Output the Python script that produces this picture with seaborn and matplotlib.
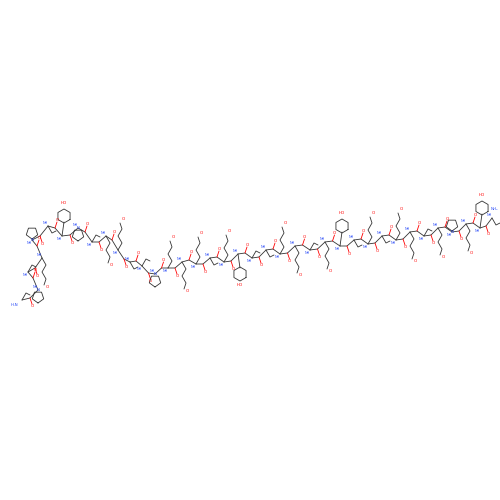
import numpy as np
import matplotlib
matplotlib.use("Agg")
import matplotlib.pyplot as plt
import seaborn as sns

# approximate alpha-carbon positions (image pixels, y downwards)
res_x = [22, 38, 28, 42, 32, 48, 62, 78, 92, 106, 118, 130, 142, 155, 168, 182, 196,
         210, 224, 238, 252, 266, 280, 295, 310, 325, 340, 354, 368, 382, 396, 410,
         424, 438, 452, 466, 480, 492]
res_y = [300, 290, 272, 258, 240, 226, 236, 228, 242, 236, 250, 262, 266, 274, 268,
         262, 264, 258, 262, 254, 258, 250, 254, 246, 250, 242, 246, 240, 244, 236,
         240, 232, 236, 228, 232, 224, 228, 218]
# residue side-chain kind: 0 short, 1 long chain, 2 ring6, 3 ring5 (proline)
res_kind = [0, 3, 0, 1, 3, 0, 2, 3, 0, 1, 1, 0, 0, 3, 1, 1, 1, 0, 1, 2, 0, 0, 1,
            1, 0, 1, 2, 0, 1, 0, 1, 1, 0, 1, 3, 1, 2, 0]

sns.set_style("white")
fig, ax = plt.subplots(figsize=(5, 5), dpi=100)
fig.subplots_adjust(0, 0, 1, 1)
ax.set_xlim(0, 500)
ax.set_ylim(500, 0)
ax.axis("off")

dark = "#333333"
for i in range(len(res_x) - 1):
    x0, y0, x1, y1 = res_x[i], res_y[i], res_x[i + 1], res_y[i + 1]
    mx, my = (x0 + x1) / 2, (y0 + y1) / 2
    sgn = 1 if i % 2 == 0 else -1
    ax.plot([x0, mx, x1], [y0, my + 3 * sgn, y1], color=dark, lw=0.6)
    ax.plot([mx, mx + 2], [my + 3 * sgn, my + 9 * sgn], color="red", lw=0.6)
    ax.text(mx + 2, my + 11 * sgn, "O", color="red", fontsize=3, ha="center", va="center")
    ax.text(x1 - 3, y1 - 3 * sgn, "NH", color="#3050f8", fontsize=2.5, ha="center", va="center")

for i, (x, y, k) in enumerate(zip(res_x, res_y, res_kind)):
    d = -1 if i % 2 == 0 else 1
    if k == 0:
        ax.plot([x, x + 4, x + 8], [y, y + 7 * d, y + 5 * d], color=dark, lw=0.6)
    elif k == 1:
        xs = [x, x + 4, x, x + 4, x + 2]
        ys = [y, y + 7 * d, y + 14 * d, y + 21 * d, y + 27 * d]
        ax.plot(xs, ys, color=dark, lw=0.6)
        ax.text(xs[-1] + 3, ys[-1] + 3 * d, "O", color="red", fontsize=3, ha="center")
    elif k == 2:
        cx, cy = x + 2, y + 20 * d
        ax.plot([x, x + 2], [y, cy - 6 * d], color=dark, lw=0.6)
        t = np.linspace(0, 2 * np.pi, 7) + np.pi / 6
        ax.plot(cx + 7 * np.cos(t), cy + 7 * np.sin(t), color=dark, lw=0.6)
        ax.text(cx, cy + 12 * d, "HO", color="red", fontsize=3, ha="center")
    else:
        t = np.linspace(0, 2 * np.pi, 6) + np.pi / 2
        ax.plot(x + 6 * np.cos(t), y + 7 * d + 6 * np.sin(t), color=dark, lw=0.6)
        ax.text(x, y, "N", color="#3050f8", fontsize=3, ha="center", va="center")

ax.text(res_x[0] - 8, res_y[0] + 6, "H\u2082N", color="#3050f8", fontsize=3, ha="center")
ax.text(res_x[-1] + 2, res_y[-1] - 8, "NH\u2082", color="#3050f8", fontsize=3, ha="center")

fig.savefig("out.png", dpi=100)
